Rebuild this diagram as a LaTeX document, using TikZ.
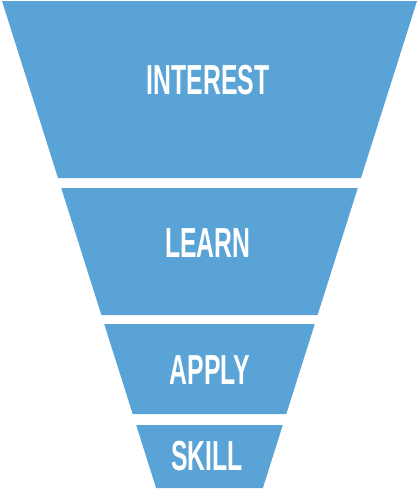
\documentclass[tikz,border=0pt]{standalone}
\usepackage{fontspec}
\usepackage{tikz}
\usetikzlibrary{positioning}
\newfontfamily\funnelfont{Liberation Sans}[FakeStretch=0.59]
\definecolor{funnelblue}{HTML}{5AA3D6}
\tikzstyle{stage} = [fill=funnelblue, draw=none]
\tikzstyle{label} = [text=white, inner sep=0pt, anchor=center, font=\funnelfont\bfseries\fontsize{42}{42}\selectfont]

\begin{document}
\begin{tikzpicture}[x=1pt, y=-1pt]
\useasboundingbox (0,0) rectangle (420,491);
% Placement of stages
\fill [stage] (2,1) -- (417,1) -- (361,178) -- (58,178) -- cycle;
\fill [stage] (61.2,188) -- (357.8,188) -- (317.6,315) -- (101.4,315) -- cycle;
\fill [stage] (104.2,324) -- (314.8,324) -- (286.3,414) -- (132.7,414) -- cycle;
\fill [stage] (136.2,425) -- (282.8,425) -- (262.9,488) -- (156.1,488) -- cycle;

% Placement of labels
\node (interest) [label] at (208,80) {INTEREST};
\node (learn) [label] at (208,243) {LEARN};
\node (apply) [label] at (210,370) {APPLY};
\node (skill) [label] at (207,456) {SKILL};

\end{tikzpicture}
\end{document}
